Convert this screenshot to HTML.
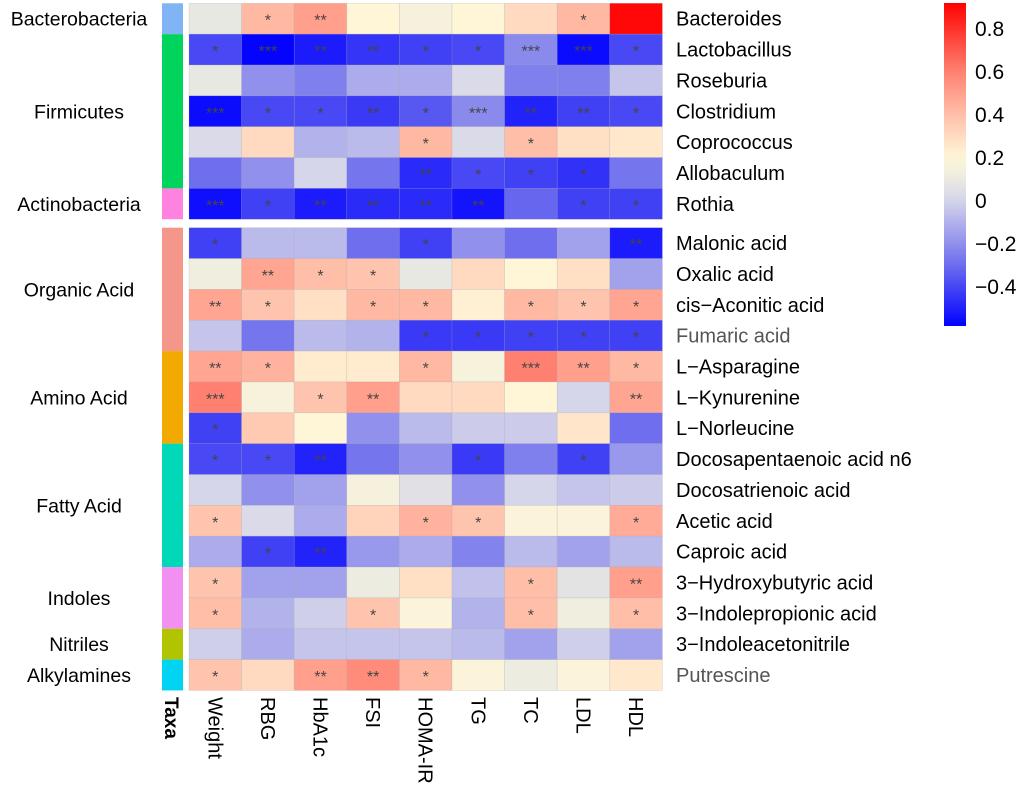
<!DOCTYPE html>
<html><head><meta charset="utf-8"><style>
html,body{margin:0;padding:0;background:#fff;}
svg{display:block;font-family:"Liberation Sans",Arial,sans-serif;}
</style></head><body>
<svg id="chart" width="1020" height="795"></svg>
<script>
const columns=["Weight","RBG","HbA1c","FSI","HOMA-IR","TG","TC","LDL","HDL"];
const rowsTop=["Bacteroides","Lactobacillus","Roseburia","Clostridium","Coprococcus","Allobaculum","Rothia"];
const rowsBottom=["Malonic acid","Oxalic acid","cis\u2212Aconitic acid","Fumaric acid","L\u2212Asparagine","L\u2212Kynurenine","L\u2212Norleucine","Docosapentaenoic acid n6","Docosatrienoic acid","Acetic acid","Caproic acid","3\u2212Hydroxybutyric acid","3\u2212Indolepropionic acid","3\u2212Indoleacetonitrile","Putrescine"];
const valuesTop=[
[0.08,0.42,0.5,0.2,0.15,0.2,0.3,0.42,0.9],
[-0.4,-0.58,-0.52,-0.45,-0.42,-0.4,-0.22,-0.56,-0.4],
[0.08,-0.2,-0.25,-0.12,-0.12,0.02,-0.25,-0.25,-0.05],
[-0.56,-0.4,-0.4,-0.44,-0.36,-0.22,-0.5,-0.42,-0.4],
[0.02,0.3,-0.1,-0.08,0.42,0.02,0.4,0.28,0.25],
[-0.3,-0.2,0.0,-0.28,-0.48,-0.4,-0.42,-0.46,-0.28],
[-0.55,-0.42,-0.52,-0.48,-0.48,-0.54,-0.32,-0.42,-0.42]];
const starsTop=[
["","*","**","","","","","*",""],
["*","***","**","**","*","*","***","***","*"],
["","","","","","","","",""],
["***","*","*","**","*","***","**","**","*"],
["","","","","*","","*","",""],
["","","","","**","*","*","*",""],
["***","*","**","**","**","**","","*","*"]];
const valuesBottom=[
[-0.42,-0.08,-0.08,-0.3,-0.42,-0.2,-0.3,-0.15,-0.52],
[0.12,0.48,0.4,0.38,0.08,0.3,0.2,0.28,-0.15],
[0.48,0.38,0.28,0.42,0.42,0.22,0.42,0.38,0.48],
[-0.05,-0.28,-0.08,-0.1,-0.44,-0.44,-0.42,-0.42,-0.42],
[0.48,0.44,0.24,0.24,0.42,0.16,0.6,0.5,0.42],
[0.6,0.16,0.38,0.5,0.3,0.3,0.2,0.0,0.48],
[-0.42,0.36,0.2,-0.2,-0.08,-0.03,-0.03,0.26,-0.3],
[-0.4,-0.4,-0.5,-0.28,-0.2,-0.44,-0.25,-0.42,-0.18],
[0.0,-0.2,-0.15,0.15,0.05,-0.2,0.0,-0.05,-0.03],
[0.38,0.02,-0.12,0.32,0.44,0.38,0.18,0.18,0.46],
[-0.12,-0.42,-0.5,-0.18,-0.12,-0.24,-0.08,-0.15,-0.08],
[0.38,-0.15,-0.15,0.1,0.28,-0.06,0.4,0.06,0.5],
[0.4,-0.1,-0.02,0.38,0.18,-0.1,0.4,0.12,0.4],
[-0.02,-0.12,-0.05,-0.05,-0.05,-0.08,-0.15,-0.02,-0.15],
[0.38,0.3,0.5,0.56,0.42,0.18,0.1,0.18,0.25]];
const starsBottom=[
["*","","","","*","","","","**"],
["","**","*","*","","","","",""],
["**","*","","*","*","","*","*","*"],
["","","","","*","*","*","*","*"],
["**","*","","","*","","***","**","*"],
["***","","*","**","","","","","**"],
["*","","","","","","","",""],
["*","*","**","","","*","","*",""],
["","","","","","","","",""],
["*","","","","*","*","","","*"],
["","*","**","","","","","",""],
["*","","","","","","*","","**"],
["*","","","*","","","*","","*"],
["","","","","","","","",""],
["*","","**","**","*","","","",""]];
const groupsTop=[["Bacterobacteria",0,1,"#80b4f4"],["Firmicutes",1,5,"#00d45c"],["Actinobacteria",6,1,"#ff82e0"]];
const groupsBottom=[["Organic Acid",0,4,"#f4978a"],["Amino Acid",4,3,"#f2aa00"],["Fatty Acid",7,4,"#00d9b8"],["Indoles",11,2,"#f290f2"],["Nitriles",13,1,"#b2c400"],["Alkylamines",14,1,"#00d4f2"]];
const legendTicks=[0.8,0.6,0.4,0.2,0,-0.2,-0.4];
const greyLabels=["Fumaric acid","Putrescine"];

const NS="http://www.w3.org/2000/svg";
const svg=document.getElementById('chart');
function mk(t,a,p){const e=document.createElementNS(NS,t);for(const k in a)e.setAttribute(k,a[k]);(p||svg).appendChild(e);return e;}
const X0=189,CW=52.6,RH=30.85,TOP0=3.3,BOT0=227.7;
const xPos=i=>X0+i*CW;
const stops=[[-0.59,[0,0,255]],[-0.3,[110,110,238]],[0,[214,214,234]],[0.1,[236,236,224]],[0.2,[255,246,216]],[0.4,[255,190,168]],[0.6,[255,128,112]],[0.92,[255,0,0]]];
function color(v){if(v<=stops[0][0])return 'rgb('+stops[0][1]+')';for(let i=1;i<stops.length;i++){if(v<=stops[i][0]){const a=stops[i-1],b=stops[i],t=(v-a[0])/(b[0]-a[0]);return 'rgb('+a[1].map((c,j)=>Math.round(c+(b[1][j]-c)*t)).join(',')+')';}}return 'rgb(255,0,0)';}

function block(rows,vals,stars,y0,groups){
  rows.forEach((r,ri)=>{
    const y=y0+ri*RH;
    vals[ri].forEach((v,ci)=>{
      const c=mk('rect',{x:xPos(ci),y:y,width:CW,height:RH,fill:color(v),stroke:'rgba(160,160,170,0.35)','stroke-width':0.6});
      
      
      if(stars[ri][ci]){const s=mk('text',{x:xPos(ci)+CW/2,y:y+RH/2+7,'text-anchor':'middle','font-size':16,fill:'#444'});s.textContent=stars[ri][ci];
        
        }
    });
    const l=mk('text',{x:676,y:y+RH/2+7,'font-size':20,fill:greyLabels.includes(r)?'#555':'#000'});l.textContent=r;
    
    
  });
  groups.forEach(g=>{
    const b=mk('rect',{x:162,y:y0+g[1]*RH,width:21,height:g[2]*RH,fill:g[3]});
    
    
    const t=mk('text',{x:79,y:y0+(g[1]+g[2]/2)*RH+7,'text-anchor':'middle','font-size':19.5});t.textContent=g[0];
    
    
  });
}
block(rowsTop,valuesTop,starsTop,TOP0,groupsTop);
block(rowsBottom,valuesBottom,starsBottom,BOT0,groupsBottom);
const tx=mk('text',{transform:'translate(165,697) rotate(90)','font-size':19,'font-weight':'bold'});tx.textContent='Taxa';


columns.forEach((c,i)=>{const t=mk('text',{transform:'translate('+(xPos(i)+CW/2-7)+',697) rotate(90)','font-size':20});t.textContent=c;
  
  });
const defs=mk('defs',{});const lg=mk('linearGradient',{id:'cb',x1:0,y1:1,x2:0,y2:0},defs);
const vmin=-0.586,vmax=0.916;
for(let k=0;k<=30;k++){const v=vmin+(vmax-vmin)*k/30;mk('stop',{offset:k/30,'stop-color':color(v)},lg);}
const cb=mk('rect',{x:944,y:3,width:22,height:323,fill:'url(#cb)'});


const cy=v=>3+(vmax-v)/(vmax-vmin)*323;
legendTicks.forEach(v=>{const t=mk('text',{x:975,y:cy(v)+8,'font-size':21});t.textContent=(v<0?'\u2212':'')+Math.abs(v);
  
  });
</script>
</body></html>
